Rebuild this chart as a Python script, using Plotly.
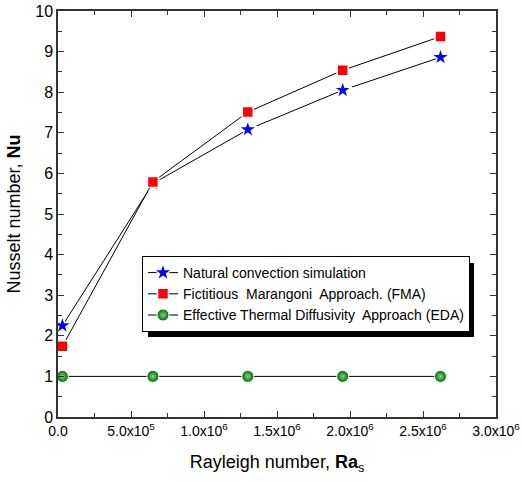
import plotly.graph_objects as go

ra = [3.0e4, 6.5e5, 1.3e6, 1.95e6, 2.62e6]
nu_natural = [2.25, 5.75, 7.08, 8.05, 8.86]
nu_fma = [1.74, 5.79, 7.51, 8.54, 9.37]
nu_eda = [1.0, 1.0, 1.0, 1.0, 1.0]

x_tickvals = [0, 5e5, 1e6, 1.5e6, 2e6, 2.5e6, 3e6]
x_ticktext = ["0.0", "5.0x10<sup>5</sup>", "1.0x10<sup>6</sup>", "1.5x10<sup>6</sup>",
              "2.0x10<sup>6</sup>", "2.5x10<sup>6</sup>", "3.0x10<sup>6</sup>"]

FONT = "Liberation Sans, Arial, sans-serif"

fig = go.Figure()
fig.add_trace(go.Scatter(
    x=ra, y=nu_natural, mode="lines+markers", name="Natural convection simulation",
    line=dict(color="black", width=1),
    marker=dict(symbol="star", size=14, color="#0000ff", line=dict(color="white", width=1.5)),
))
fig.add_trace(go.Scatter(
    x=ra, y=nu_fma, mode="lines+markers", name="Fictitious  Marangoni  Approach. (FMA)",
    line=dict(color="black", width=1),
    marker=dict(symbol="square", size=11, color="#ff0000", line=dict(color="white", width=1.5)),
))
fig.add_trace(go.Scatter(
    x=ra, y=nu_eda, mode="lines+markers", name="Effective Thermal Diffusivity  Approach (EDA)",
    line=dict(color="black", width=1),
    marker=dict(symbol="circle", size=12, color="#006400",
                gradient=dict(type="radial", color="#7fd67f"),
                line=dict(color="white", width=1)),
))

axis_common = dict(
    showgrid=False, zeroline=False, showline=True, linecolor="#333333", linewidth=1.5,
    mirror="allticks", ticks="inside", ticklen=6, tickwidth=1, tickcolor="#333333",
    automargin=False,
)

fig.update_xaxes(
    range=[0, 3e6], tickvals=x_tickvals, ticktext=x_ticktext,
    tickfont=dict(family=FONT, size=14, color="black"),
    minor=dict(ticks="inside", ticklen=4, dtick=2.5e5, tick0=0, tickcolor="#333333"),
    title=dict(text="Rayleigh number, <b>Ra</b><sub>s</sub>",
               font=dict(family=FONT, size=18, color="black"), standoff=18),
    **axis_common,
)
fig.update_yaxes(
    range=[0, 10], dtick=1, tick0=0,
    tickfont=dict(family=FONT, size=16, color="black"),
    minor=dict(ticks="inside", ticklen=4, dtick=0.5, tick0=0, tickcolor="#333333"),
    title=dict(text="Nusselt number, <b>Nu</b>",
               font=dict(family=FONT, size=18, color="black"), standoff=10),
    **axis_common,
)

# legend shadow
fig.add_shape(type="rect", xref="paper", yref="paper",
              x0=(148 - 58) / 438, x1=(474 - 58) / 438,
              y0=(417 - 337) / 406, y1=(417 - 263) / 406,
              fillcolor="black", line=dict(width=0), layer="below")

fig.update_layout(
    width=522, height=482,
    margin=dict(l=58, r=26, t=11, b=65),
    paper_bgcolor="white", plot_bgcolor="white",
    font=dict(family=FONT, color="black"),
    showlegend=True,
    legend=dict(x=(142 - 58) / 438, y=(417 - 256) / 406, xanchor="left", yanchor="top",
                bgcolor="white", bordercolor="black", borderwidth=1,
                font=dict(family=FONT, size=14, color="black"),
                tracegroupgap=0, itemwidth=30),
)

fig.write_html("out.html")
